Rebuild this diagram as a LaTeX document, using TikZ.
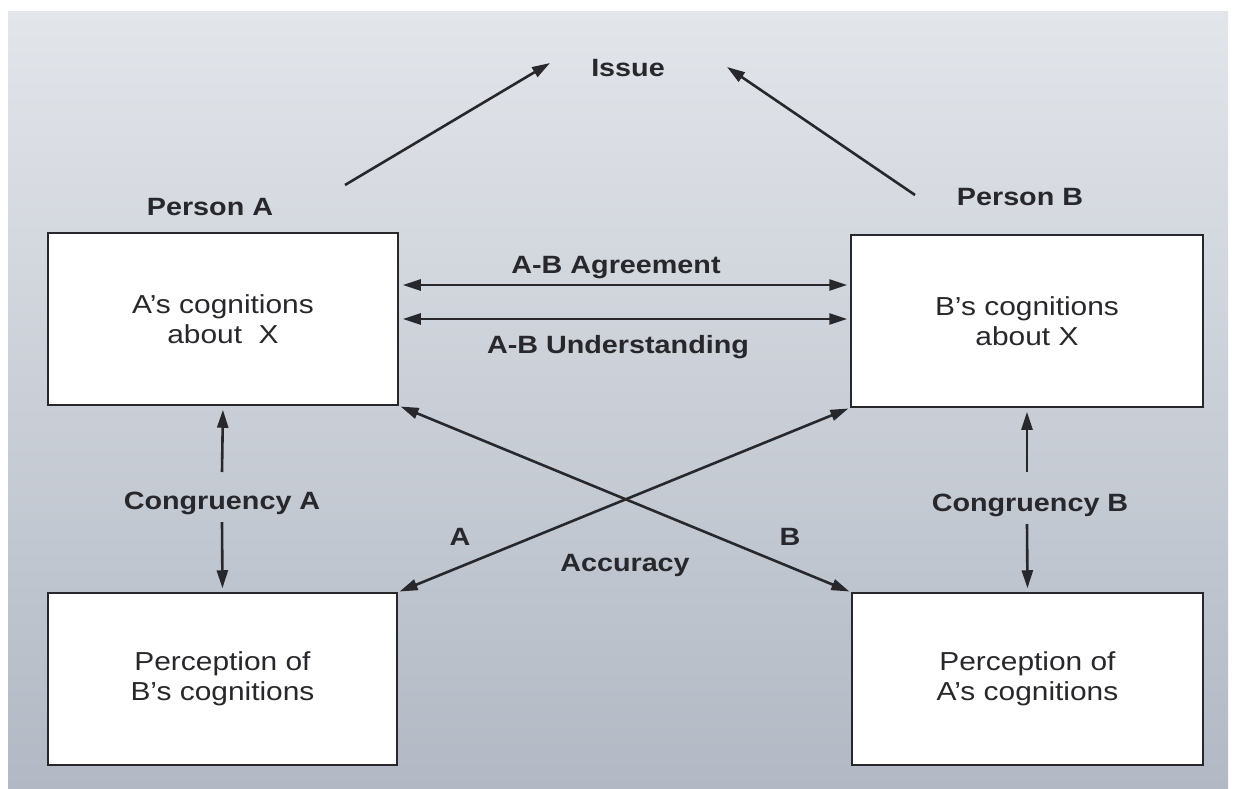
\documentclass[tikz,border=0pt]{standalone}
\usepackage{fontspec}
\setmainfont{Liberation Sans}[FakeStretch=1.15]
\usetikzlibrary{arrows.meta}
\definecolor{ink}{RGB}{40,40,44}
\definecolor{bgtop}{RGB}{226,229,234}
\definecolor{bgbot}{RGB}{178,185,196}
\begin{document}
\begin{tikzpicture}[x=1pt,y=-1pt,
  box/.style={draw=ink,line width=1.5pt,fill=white,inner sep=0pt,align=center,
    font=\fontsize{26}{30}\selectfont,text=ink},
  lbl/.style={font=\fontsize{25}{29}\selectfont\bfseries,text=ink,inner sep=0pt},
  con/.style={draw=ink,line width=2.6pt,-{Triangle[length=18pt,width=11pt]}},
  dcon/.style={draw=ink,line width=2.6pt,{Triangle[length=18pt,width=11pt]}-{Triangle[length=18pt,width=11pt]}}]
\useasboundingbox (0,0) rectangle (1236,789);
\fill[white] (0,0) rectangle (1236,789);
\shade[top color=bgtop,bottom color=bgbot] (8,12) rectangle (1228,789);
% boxes
\node[box,minimum width=350pt,minimum height=172pt] (A1) at (223,319) {A’s cognitions\\about\ \ X};
\node[box,minimum width=352pt,minimum height=172pt] (B1) at (1027,321) {B’s cognitions\\about X};
\node[box,minimum width=349pt,minimum height=172pt] (A2) at (222.5,679) {Perception of\\B’s cognitions};
\node[box,minimum width=351pt,minimum height=172pt] (B2) at (1027.5,679) {Perception of\\A’s cognitions};
% labels
\node[lbl] (issue) at (628,68) {Issue};
\node[lbl] (pA) at (210,207) {Person A};
\node[lbl] (pB) at (1020,197) {Person B};
\node[lbl] (agr) at (616,268) {A-B Agreement};
\node[lbl] (und) at (618,347) {A-B Understanding};
\node[lbl] (congA) at (222,503) {Congruency A};
\node[lbl] (congB) at (1030,505) {Congruency B};
\node[lbl] (lA) at (460,537) {A};
\node[lbl] (lB) at (790,537) {B};
\node[lbl] (acc) at (625,565) {Accuracy};
% issue arrows
\coordinate (iAs) at (345,185);
\coordinate (iAe) at (550,63);
\coordinate (iBs) at (915,195);
\coordinate (iBe) at (727,67);
\draw[con] (iAs) -- (iAe);
\draw[con] (iBs) -- (iBe);
% horizontal arrows
\draw[dcon,shorten <=4pt,shorten >=3pt] (A1.east |- 0,285) -- (B1.west |- 0,285);
\draw[dcon,shorten <=4pt,shorten >=3pt] (A1.east |- 0,319) -- (B1.west |- 0,319);
% accuracy cross
\draw[dcon,shorten <=2pt,shorten >=2pt] (A1.south east) -- (B2.north west);
\draw[dcon,shorten <=2pt,shorten >=2pt] (A2.north east) -- (B1.south west);
% congruency arrows
\coordinate (cAu) at (222,472);
\coordinate (cAd) at (222,522);
\coordinate (cBu) at (1027,472);
\coordinate (cBd) at (1027,524);
\draw[con,shorten >=4pt] (cAu) -- (A1.south);
\draw[con,shorten >=4pt] (cAd) -- (A2.north);
\draw[con,shorten >=4pt] (cBu) -- (B1.south);
\draw[con,shorten >=4pt] (cBd) -- (B2.north);
\end{tikzpicture}
\end{document}
